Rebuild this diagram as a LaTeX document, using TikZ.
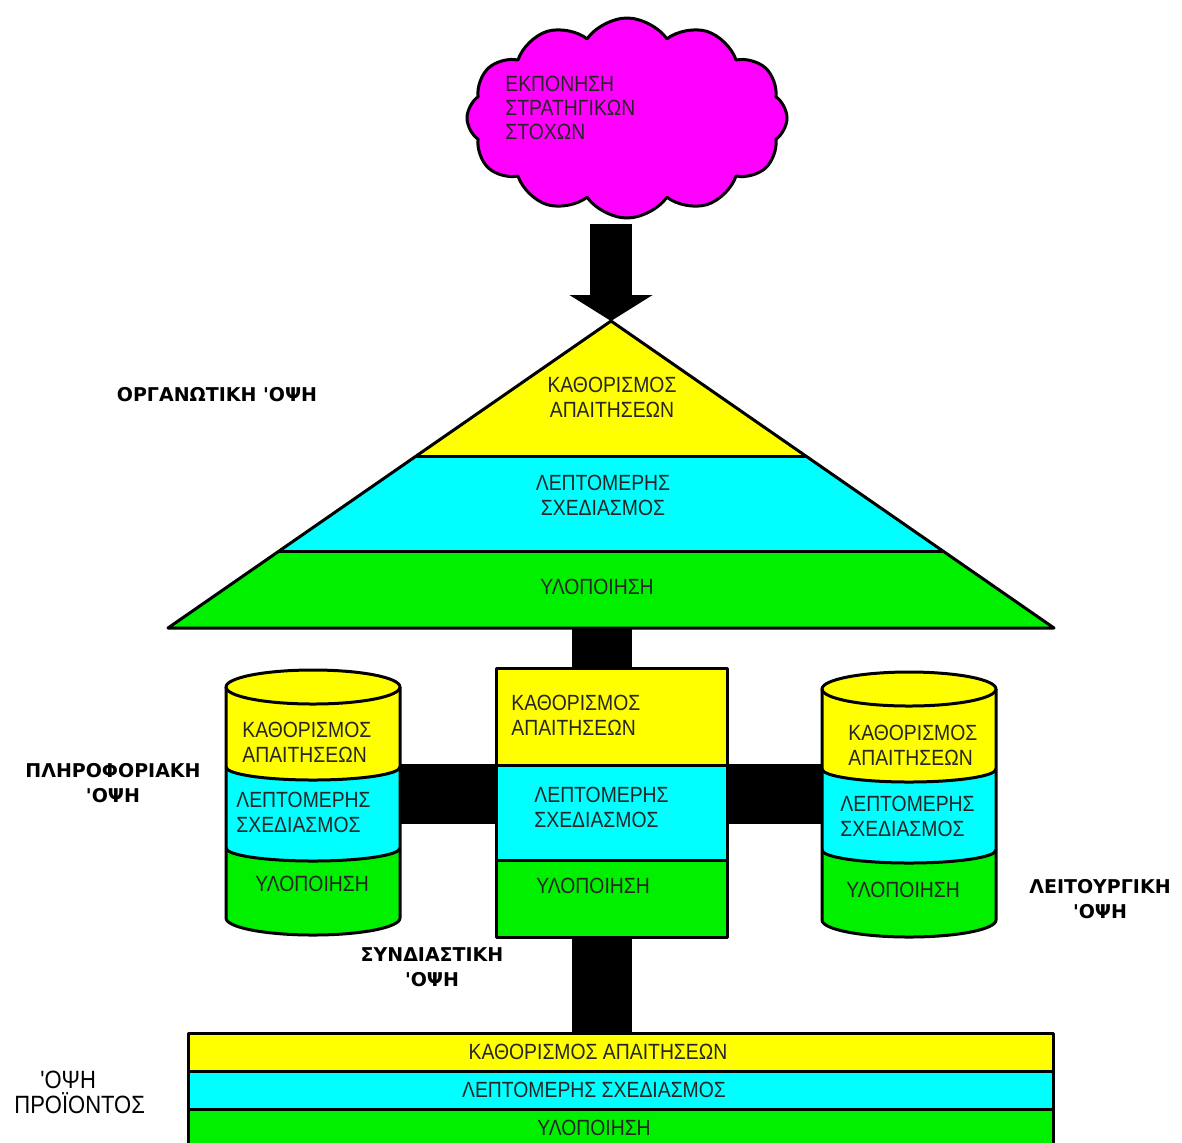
\documentclass[tikz,border=0pt]{standalone}
\usepackage{fontspec}
\setmainfont{Liberation Sans}
\newfontfamily\boxfont[FakeStretch=0.88]{Liberation Sans}
\newfontfamily\tagfont{DejaVu Sans}
\usetikzlibrary{shapes.symbols, arrows.meta}

\definecolor{reqcol}{RGB}{255,255,0}
\definecolor{descol}{RGB}{0,255,255}
\definecolor{impcol}{RGB}{0,240,0}
\definecolor{goalcol}{RGB}{255,0,255}

\begin{document}
\begin{tikzpicture}[x=0.5pt, y=-0.5pt,
  edge/.style={line width=1.5pt, line join=round},
  inbox/.style={font=\boxfont\fontsize{11}{12.5}\selectfont, text=black!85, align=left, inner sep=0},
  tag/.style={font=\tagfont\bfseries\fontsize{9.5}{12.5}\selectfont, align=center, inner sep=0},
  link/.style={line width=30pt, black},
  boxframe/.style={draw, edge, inner sep=0, outer sep=0, anchor=north west}]

\useasboundingbox (0,0) rectangle (1182,1142);
\clip (0,0) rectangle (1182,1142);

% ---- goal cloud and arrow ----
\node[cloud, cloud puffs=12, cloud puff arc=110, aspect=1.7, draw, edge,
      fill=goalcol, minimum width=160pt, minimum height=100pt, inner sep=0] (cloud) at (627,118) {};
\node[inbox, anchor=west, font=\boxfont\fontsize{11}{12}\selectfont] (goal) at (505,108)
  {ΕΚΠΟΝΗΣΗ\\ΣΤΡΑΤΗΓΙΚΩΝ\\ΣΤΟΧΩΝ};

\coordinate (apex) at (611,321);
\coordinate (drop) at (611,224);
\draw[black, line width=21pt, -{Triangle[length=13pt, width=41pt]}] (drop) -- (apex);

% ---- organisational pyramid ----
\fill[reqcol] (apex) -- (807,456) -- (415,456) -- cycle;
\fill[descol] (415,456) -- (807,456) -- (943,551) -- (279,551) -- cycle;
\fill[impcol] (279,551) -- (943,551) -- (1054,628) -- (168,628) -- cycle;
\draw[edge] (apex) -- (1054,628) -- (168,628) -- cycle;
\draw[edge] (415,456) -- (807,456);
\draw[edge] (279,551) -- (943,551);
\coordinate (pbase) at (602,628);

\node[inbox, align=center] at (612,397.5) {ΚΑΘΟΡΙΣΜΟΣ\\ΑΠΑΙΤΗΣΕΩΝ};
\node[inbox, align=center] at (603,495.5) {ΛΕΠΤΟΜΕΡΗΣ\\ΣΧΕΔΙΑΣΜΟΣ};
\node[inbox, align=center] at (597,587) {ΥΛΟΠΟΙΗΣΗ};

% ---- combined view box ----
\fill[reqcol] (496,668) rectangle (727,765);
\fill[descol] (496,765) rectangle (727,860);
\fill[impcol] (496,860) rectangle (727,937);
\draw[edge] (496,765) -- (727,765);
\draw[edge] (496,860) -- (727,860);
\node[boxframe, minimum width=115.5pt, minimum height=134.5pt] (mid) at (496,668) {};

\node[inbox, anchor=west] at (511,715) {ΚΑΘΟΡΙΣΜΟΣ\\ΑΠΑΙΤΗΣΕΩΝ};
\node[inbox, anchor=west] at (534,807) {ΛΕΠΤΟΜΕΡΗΣ\\ΣΧΕΔΙΑΣΜΟΣ};
\node[inbox, anchor=west] at (536,886) {ΥΛΟΠΟΙΗΣΗ};

% ---- layered drums ----
\newcommand\layerdrum{%
  \fill[impcol] (0,161) arc[start angle=180, end angle=0, x radius=87, y radius=13]
     -- (174,231) arc[start angle=0, end angle=180, x radius=87, y radius=17] -- cycle;
  \fill[descol] (0,80) arc[start angle=180, end angle=0, x radius=87, y radius=13]
     -- (174,161) arc[start angle=0, end angle=180, x radius=87, y radius=13] -- cycle;
  \fill[reqcol] (0,0) arc[start angle=180, end angle=360, x radius=87, y radius=17]
     -- (174,80) arc[start angle=0, end angle=180, x radius=87, y radius=13] -- cycle;
  \draw[edge] (87,0) ellipse[x radius=87, y radius=17];
  \draw[edge] (0,0) -- (0,231) arc[start angle=180, end angle=0, x radius=87, y radius=17] -- (174,0);
  \draw[edge] (0,80) arc[start angle=180, end angle=0, x radius=87, y radius=13];
  \draw[edge] (0,161) arc[start angle=180, end angle=0, x radius=87, y radius=13];
}
\begin{scope}[shift={(226,687)}]
  \layerdrum
  \coordinate (ljoin) at (174,106.5);
\end{scope}
\begin{scope}[shift={(822,689)}]
  \layerdrum
  \coordinate (rjoin) at (0,104.5);
\end{scope}

\node[inbox, anchor=west] at (242,742.5) {ΚΑΘΟΡΙΣΜΟΣ\\ΑΠΑΙΤΗΣΕΩΝ};
\node[inbox, anchor=west] at (236,812.5) {ΛΕΠΤΟΜΕΡΗΣ\\ΣΧΕΔΙΑΣΜΟΣ};
\node[inbox, anchor=west] at (255,884) {ΥΛΟΠΟΙΗΣΗ};

\node[inbox, anchor=west] at (848,745) {ΚΑΘΟΡΙΣΜΟΣ\\ΑΠΑΙΤΗΣΕΩΝ};
\node[inbox, anchor=west] at (840,816.5) {ΛΕΠΤΟΜΕΡΗΣ\\ΣΧΕΔΙΑΣΜΟΣ};
\node[inbox, anchor=west] at (846,890) {ΥΛΟΠΟΙΗΣΗ};

% ---- product view strip ----
\fill[reqcol] (188,1033) rectangle (1053,1071);
\fill[descol] (188,1071) rectangle (1053,1109);
\fill[impcol] (188,1109) rectangle (1053,1160);
\draw[edge] (188,1071) -- (1053,1071);
\draw[edge] (188,1109) -- (1053,1109);
\node[boxframe, minimum width=432.5pt, minimum height=63.5pt] (prod) at (188,1033) {};

\node[inbox] at (598,1052) {ΚΑΘΟΡΙΣΜΟΣ ΑΠΑΙΤΗΣΕΩΝ};
\node[inbox] at (594,1090) {ΛΕΠΤΟΜΕΡΗΣ ΣΧΕΔΙΑΣΜΟΣ};
\node[inbox] at (594,1128) {ΥΛΟΠΟΙΗΣΗ};

% ---- links ----
\draw[link] (pbase) -- (pbase |- mid.north);
\draw[link] (ljoin) -- (ljoin -| mid.west);
\draw[link] (rjoin) -- (rjoin -| mid.east);
\draw[link] (pbase |- mid.south) -- (pbase |- prod.north);

% ---- view labels ----
\node[tag] at (217,395) {ΟΡΓΑΝΩΤΙΚΗ 'ΟΨΗ};
\node[tag] at (113,783.5) {ΠΛΗΡΟΦΟΡΙΑΚΗ\\'ΟΨΗ};
\node[tag] at (432,967.5) {ΣΥΝΔΙΑΣΤΙΚΗ\\'ΟΨΗ};
\node[tag] at (1100,899) {ΛΕΙΤΟΥΡΓΙΚΗ\\'ΟΨΗ};
\node[inbox, text=black, anchor=west, font=\boxfont\fontsize{12.5}{12.5}\selectfont]
  at (14,1092) {\hspace{13pt}'ΟΨΗ\\ΠΡΟΪΟΝΤΟΣ};

\end{tikzpicture}
\end{document}
